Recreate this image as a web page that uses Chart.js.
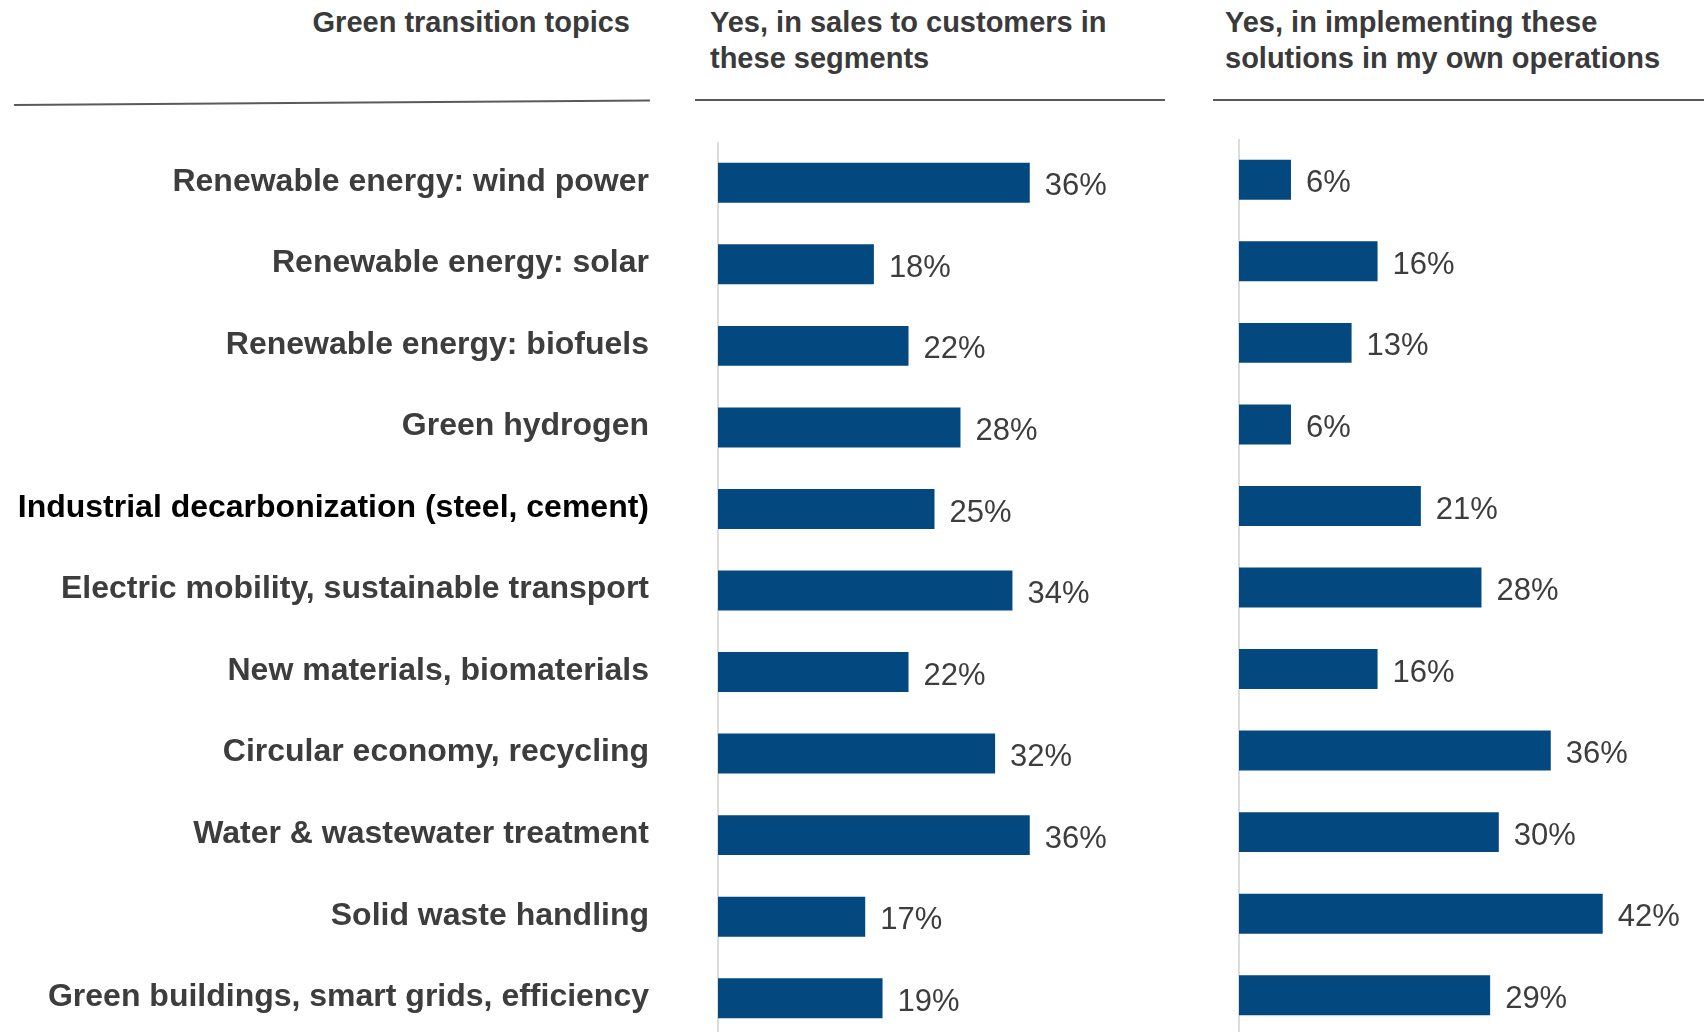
<!DOCTYPE html>
<html>
<head>
<meta charset="utf-8">
<script src="https://cdn.jsdelivr.net/npm/chart.js@4.4.1/dist/chart.umd.min.js"></script>
<style>
    html, body { margin: 0; padding: 0; background: #fff; overflow: hidden; }
    #page { position: relative; width: 1704px; height: 1032px; overflow: hidden; font-family: "Liberation Sans", Arial, sans-serif; }
    .head { position: absolute; font-weight: bold; font-size: 29px; line-height: 36px; color: #3a3a3a; white-space: nowrap; }
    .rule { position: absolute; height: 2px; background: #5a5a5a; }
    .panel { position: absolute; }
</style>
</head>
<body>
<div id="page">
    <div class="head" style="right: 1074px; top: 4px; text-align: right;">Green transition topics</div>
    <div class="head" style="left: 710px; top: 4px;">Yes, in sales to customers in<br>these segments</div>
    <div class="head" style="left: 1225px; top: 4px;">Yes, in implementing these<br>solutions in my own operations</div>

    <div class="rule" style="left: 14px; top: 104px; width: 636px; transform: rotate(-0.4deg); transform-origin: left center;"></div>
    <div class="rule" style="left: 695px; top: 99px; width: 470px;"></div>
    <div class="rule" style="left: 1213px; top: 99px; width: 491px;"></div>

    <div class="panel" style="left: 0; top: 142px;"><canvas id="salesChart" width="1151" height="897"></canvas></div>
    <div class="panel" style="left: 1180px; top: 139px;"><canvas id="opsChart" width="524" height="897"></canvas></div>
</div>

<script>
const topics = [
    'Renewable energy: wind power',
    'Renewable energy: solar',
    'Renewable energy: biofuels',
    'Green hydrogen',
    'Industrial decarbonization (steel, cement)',
    'Electric mobility, sustainable transport',
    'New materials, biomaterials',
    'Circular economy, recycling',
    'Water & wastewater treatment',
    'Solid waste handling',
    'Green buildings, smart grids, efficiency'
];

// share of respondents answering "yes", in percent
const salesShare = [36, 18, 22, 28, 25, 34, 22, 32, 36, 17, 19];
const operationsShare = [6, 16, 13, 6, 21, 28, 16, 36, 30, 42, 29];

const barColor = '#03487f';
const textColor = '#3d3d3d';

// writes "NN%" just past the end of each bar
const valueLabels = {
    id: 'valueLabels',
    afterDatasetsDraw(chart) {
        const ctx = chart.ctx;
        const values = chart.data.datasets[0].data;
        ctx.save();
        ctx.font = '31px "Liberation Sans", Arial, sans-serif';
        ctx.fillStyle = textColor;
        ctx.textBaseline = 'middle';
        chart.getDatasetMeta(0).data.forEach((bar, i) => {
            ctx.fillText(values[i] + '%', bar.x + 15, bar.y + 4);
        });
        ctx.restore();
    }
};

function makeConfig(values, showTopics, axisWidth, rightPad) {
    return {
        type: 'bar',
        data: {
            labels: topics,
            datasets: [{
                data: values,
                backgroundColor: barColor,
                borderWidth: 0,
                categoryPercentage: 1,
                barPercentage: 0.49
            }]
        },
        options: {
            indexAxis: 'y',
            responsive: false,
            animation: false,
            layout: { padding: { left: 0, right: rightPad, top: 0, bottom: 0 } },
            plugins: {
                legend: { display: false },
                tooltip: { enabled: false }
            },
            scales: {
                x: {
                    display: false,
                    min: 0,
                    max: 50
                },
                y: {
                    grid: { display: false, drawTicks: false },
                    border: { display: true, color: '#dcdcdc', width: 2 },
                    ticks: {
                        display: showTopics,
                        padding: 69,
                        labelOffset: -1,
                        font: { family: '"Liberation Sans", Arial, sans-serif', size: 32, weight: 'bold' },
                        color: (c) => c.index === 4 ? '#000000' : textColor
                    },
                    afterFit: (scale) => {
                        // fixed axis width, and no extra top/bottom inset from the tick padding
                        scale.width = axisWidth;
                        scale.paddingTop = 0;
                        scale.paddingBottom = 0;
                    }
                }
            }
        },
        plugins: [valueLabels]
    };
}

new Chart(document.getElementById('salesChart'), makeConfig(salesShare, true, 718, 0));
new Chart(document.getElementById('opsChart'), makeConfig(operationsShare, false, 59, 32));
</script>
</body>
</html>
